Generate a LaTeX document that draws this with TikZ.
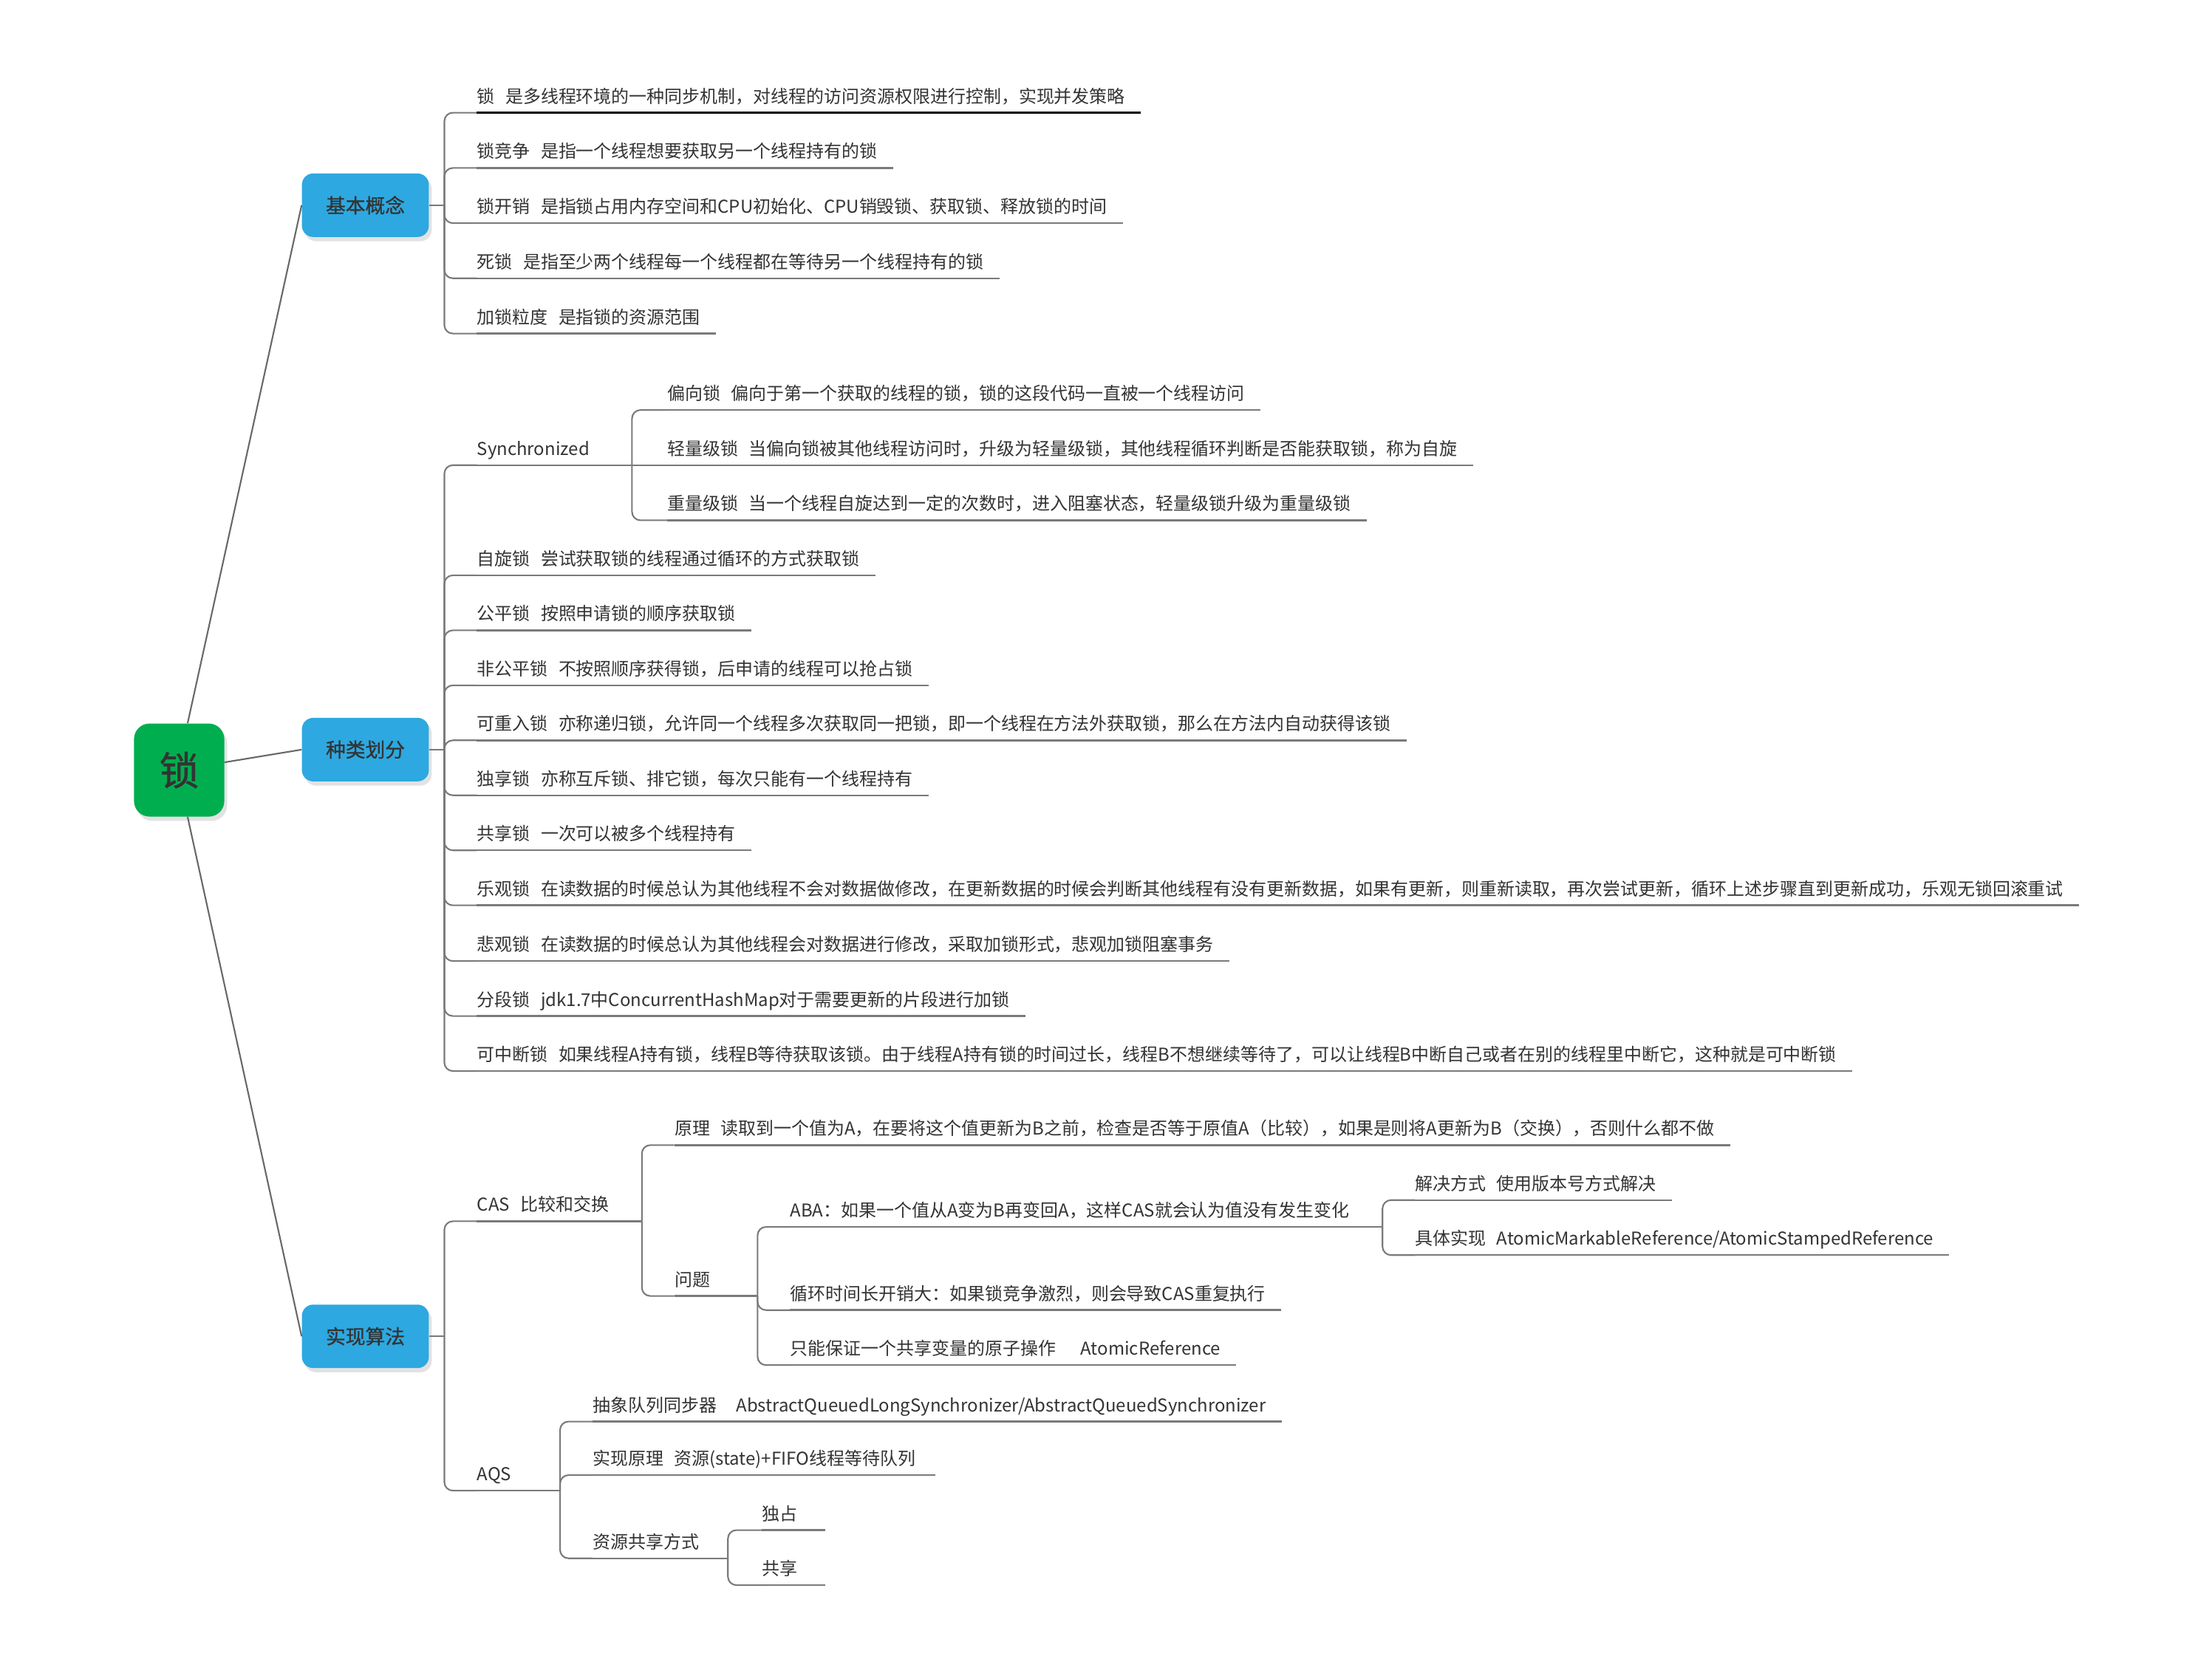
\documentclass[tikz,border=0pt]{standalone}
\usepackage{fontspec}
\setmainfont{Noto Sans CJK SC}
\newfontfamily\medfont[FakeBold=0.9]{Noto Sans CJK SC}
\usetikzlibrary{calc,shadows}
\definecolor{txt}{HTML}{333333}
\definecolor{linec}{HTML}{7A7A7A}
\definecolor{boxblue}{HTML}{2DA8E0}
\definecolor{rootgreen}{HTML}{00AE4F}
\definecolor{shadowc}{HTML}{E2E2E2}
\tikzset{
  leaf/.style={anchor=base west, inner xsep=0pt, inner ysep=6.9pt, text depth=0pt,
    font=\fontsize{12.55pt}{15pt}\selectfont, text=txt},
  ul/.style={draw=linec, line width=1.3pt},
  conn/.style={draw=linec, line width=1.1pt, rounded corners=6pt},
  rootline/.style={draw=linec!85!black, line width=1.1pt},
  topic/.style={fill=boxblue, rounded corners=8pt, minimum width=90pt, minimum height=45pt,
    inner sep=0pt, text=txt, font=\medfont\fontsize{14pt}{16pt}\selectfont,
    drop shadow={shadow xshift=2pt, shadow yshift=-3pt, fill=shadowc, opacity=1}},
  rootbox/.style={fill=rootgreen, rounded corners=11pt, minimum width=64pt, minimum height=66pt,
    inner sep=0pt, text=txt, font=\medfont\fontsize{28pt}{30pt}\selectfont,
    drop shadow={shadow xshift=2pt, shadow yshift=-3pt, fill=shadowc, opacity=1}},
}
\newcommand\gap{\hspace{0.6em}}
\newcommand\lf[4]{\node[leaf] (#1) at (#2,#3+4.8) {#4};}
\newcommand\ulx[2]{\draw[ul] (#1.south west) -- ([xshift=#2pt]#1.south east);}
\begin{document}
\begin{tikzpicture}[x=1pt,y=-1pt]
\fill[white] (0,0) rectangle (1568,1173.64);
\useasboundingbox (0,0) rectangle (1568,1173.64);

% root and main topics
\node[rootbox] (root) at (127,546) {锁};
\node[topic] (basic) at (259,145.5) {基本概念};
\node[topic] (kinds) at (259,531.5) {种类划分};
\node[topic] (impl) at (259,947.5) {实现算法};
\draw[rootline] ([xshift=6pt]root.north) -- (basic.west);
\draw[rootline] ([yshift=5.5pt]root.east) -- (kinds.west);
\draw[rootline] ([xshift=6pt]root.south) -- (impl.west);

\coordinate (jb) at (315,145.5);
\coordinate (jk) at (315,531.5);
\coordinate (ji) at (315,947.5);
\draw[ul] (basic.east) -- (jb);
\draw[ul] (kinds.east) -- (jk);
\draw[ul] (impl.east) -- (ji);

% ---------- 基本概念 ----------
\lf{b1}{338}{68}{锁\gap 是多线程环境的一种同步机制，对线程的访问资源权限进行控制，实现并发策略}
\lf{b2}{338}{107.2}{锁竞争\gap 是指一个线程想要获取另一个线程持有的锁}
\lf{b3}{338}{146.3}{锁开销\gap 是指锁占用内存空间和CPU初始化、CPU销毁锁、获取锁、释放锁的时间}
\lf{b4}{338}{185.4}{死锁\gap 是指至少两个线程每一个线程都在等待另一个线程持有的锁}
\lf{b5}{338}{224.6}{加锁粒度\gap 是指锁的资源范围}
\foreach \n in {b1,b2,b3,b4,b5} {\draw[conn] (jb) |- (\n.south west);}
\draw[draw=black, line width=1.7pt] (b1.south west) -- ([xshift=11pt]b1.south east);
\ulx{b2}{11}\ulx{b3}{11}\ulx{b4}{11}\ulx{b5}{11}

% ---------- 种类划分 ----------
\lf{sync}{338}{317.9}{Synchronized}
\coordinate (js) at ($(sync.south west)+(110,0)$);
\draw[conn] (jk) |- (sync.south west);
\draw[ul] (sync.south west) -- (js);
\lf{s1}{473}{278.8}{偏向锁\gap 偏向于第一个获取的线程的锁，锁的这段代码一直被一个线程访问}
\lf{s2}{473}{317.9}{轻量级锁\gap 当偏向锁被其他线程访问时，升级为轻量级锁，其他线程循环判断是否能获取锁，称为自旋}
\lf{s3}{473}{357}{重量级锁\gap 当一个线程自旋达到一定的次数时，进入阻塞状态，轻量级锁升级为重量级锁}
\draw[conn] (js) |- (s1.south west);
\draw[ul] (js) -- (s2.south west);
\draw[conn] (js) |- (s3.south west);
\ulx{s1}{11}\ulx{s2}{11}\ulx{s3}{11}

\lf{k2}{338}{396}{自旋锁\gap 尝试获取锁的线程通过循环的方式获取锁}
\lf{k3}{338}{435}{公平锁\gap 按照申请锁的顺序获取锁}
\lf{k4}{338}{474}{非公平锁\gap 不按照顺序获得锁，后申请的线程可以抢占锁}
\lf{k5}{338}{513}{可重入锁\gap 亦称递归锁，允许同一个线程多次获取同一把锁，即一个线程在方法外获取锁，那么在方法内自动获得该锁}
\lf{k6}{338}{552}{独享锁\gap 亦称互斥锁、排它锁，每次只能有一个线程持有}
\lf{k7}{338}{591}{共享锁\gap 一次可以被多个线程持有}
\lf{k8}{338}{630}{乐观锁\gap 在读数据的时候总认为其他线程不会对数据做修改，在更新数据的时候会判断其他线程有没有更新数据，如果有更新，则重新读取，再次尝试更新，循环上述步骤直到更新成功，乐观无锁回滚重试}
\lf{k9}{338}{669.5}{悲观锁\gap 在读数据的时候总认为其他线程会对数据进行修改，采取加锁形式，悲观加锁阻塞事务}
\lf{k10}{338}{708.5}{分段锁\gap jdk1.7中ConcurrentHashMap对于需要更新的片段进行加锁}
\lf{k11}{338}{747.5}{可中断锁\gap 如果线程A持有锁，线程B等待获取该锁。由于线程A持有锁的时间过长，线程B不想继续等待了，可以让线程B中断自己或者在别的线程里中断它，这种就是可中断锁}
\foreach \n in {k2,k3,k4,k5,k6,k7,k8,k9,k10,k11} {\draw[conn] (jk) |- (\n.south west); \ulx{\n}{11}}

% ---------- 实现算法 ----------
\lf{cas}{338}{854}{CAS\gap 比较和交换}
\coordinate (jc) at ($(cas.south west)+(117,0)$);
\draw[conn] (ji) |- (cas.south west);
\draw[ul] (cas.south west) -- (jc);

\lf{c1}{478}{800}{原理\gap 读取到一个值为A，在要将这个值更新为B之前，检查是否等于原值A（比较），如果是则将A更新为B（交换），否则什么都不做}
\lf{c2}{478}{907}{问题}
\coordinate (jq) at ($(c2.south west)+(59,0)$);
\draw[conn] (jc) |- (c1.south west);
\draw[conn] (jc) |- (c2.south west);
\ulx{c1}{11}
\draw[ul] (c2.south west) -- (jq);

\lf{q1}{560}{858}{ABA：如果一个值从A变为B再变回A，这样CAS就会认为值没有发生变化}
\lf{q2}{560}{917}{循环时间长开销大：如果锁竞争激烈，则会导致CAS重复执行}
\lf{q3}{560}{956}{只能保证一个共享变量的原子操作\hspace{1.4em}AtomicReference}
\coordinate (ja) at ($(q1.south west)+(420,0)$);
\foreach \n in {q1,q2,q3} {\draw[conn] (jq) |- (\n.south west);}
\draw[ul] (q1.south west) -- (ja);
\ulx{q2}{11}\ulx{q3}{11}

\lf{a1}{1003}{839}{解决方式\gap 使用版本号方式解决}
\lf{a2}{1003}{878}{具体实现\gap AtomicMarkableReference/AtomicStampedReference}
\foreach \n in {a1,a2} {\draw[conn] (ja) |- (\n.south west); \ulx{\n}{11}}

\lf{aqs}{338}{1045}{AQS}
\coordinate (jq2) at ($(aqs.south west)+(59,0)$);
\draw[conn] (ji) |- (aqs.south west);
\draw[ul] (aqs.south west) -- (jq2);

\lf{p1}{420}{996}{抽象队列同步器\hspace{1.1em}AbstractQueuedLongSynchronizer/AbstractQueuedSynchronizer}
\lf{p2}{420}{1034}{实现原理\gap 资源(state)+FIFO线程等待队列}
\lf{p3}{420}{1093}{资源共享方式}
\coordinate (jr) at ($(p3.south west)+(96,0)$);
\foreach \n in {p1,p2,p3} {\draw[conn] (jq2) |- (\n.south west);}
\ulx{p1}{11}\ulx{p2}{14}
\draw[ul] (p3.south west) -- (jr);

\lf{r1}{540}{1073}{独占}
\lf{r2}{540}{1112}{共享}
\foreach \n in {r1,r2} {\draw[conn] (jr) |- (\n.south west); \draw[ul] (\n.south west) -- ++(45,0);}
\end{tikzpicture}
\end{document}
